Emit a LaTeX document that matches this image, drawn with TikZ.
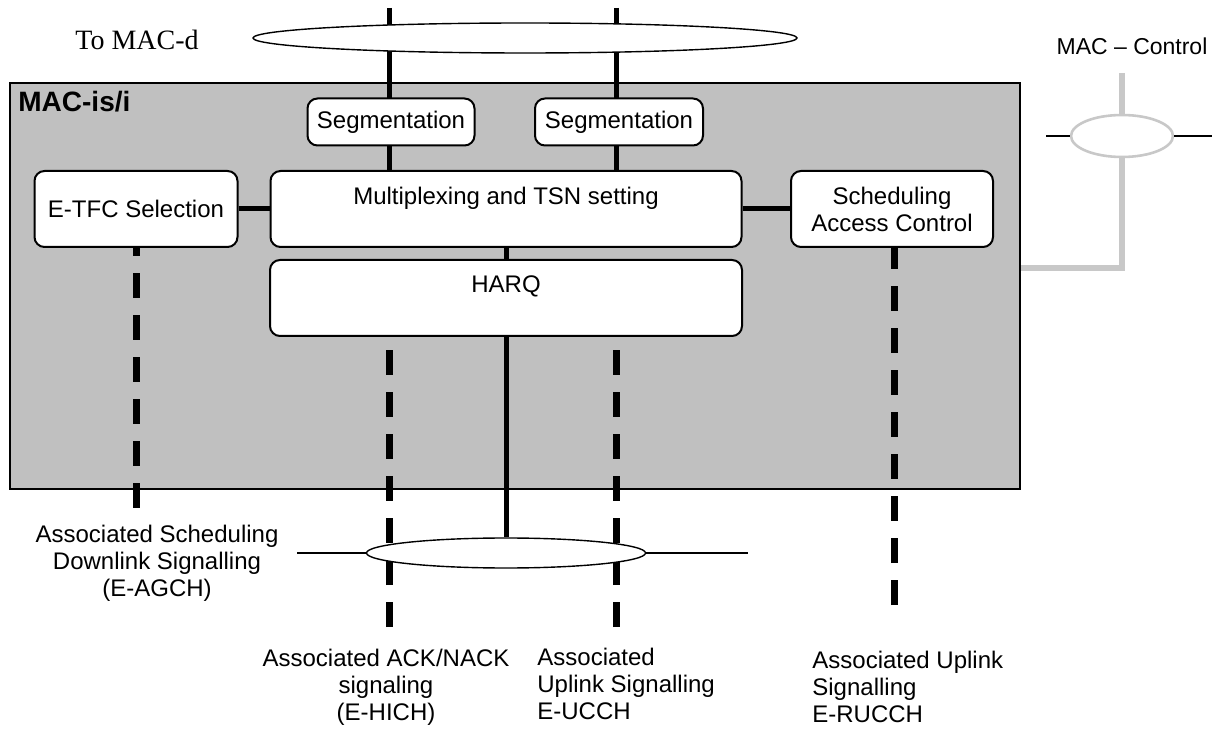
\documentclass[tikz,border=0pt]{standalone}
\usepackage{fontspec}
\setmainfont{Liberation Sans}
\newfontfamily\timesfont{Liberation Serif}
\usetikzlibrary{positioning,shapes.geometric}
\definecolor{macgray}{HTML}{C0C0C0}
\definecolor{ctlgray}{HTML}{C8C8C8}

\tikzset{
  block/.style={draw, fill=white, rounded corners=5pt, line width=1pt, align=center, inner sep=0pt, font=\fontsize{12}{13.5}\selectfont},
  chan/.style={ellipse, draw, fill=white, line width=0.7pt, inner sep=0pt},
  link/.style={line width=2.5pt},
  sig/.style={line width=3.5pt, dash pattern=on 12.5pt off 8.5pt},
  tag/.style={inner sep=0pt, align=center, font=\fontsize{12}{13.5}\selectfont}
}

\begin{document}
\begin{tikzpicture}[x=0.5pt, y=-0.5pt, node distance=40pt, on grid]
    \useasboundingbox (0,0) rectangle (1220,731);

      % MAC-is/i entity
      \node[draw, fill=macgray, line width=0.75pt, minimum width=505pt, minimum height=203pt, inner sep=0pt] (macbox) at (515,286) {};
      \node[anchor=base west, inner sep=0pt, font=\bfseries\fontsize{14}{16}\selectfont] (macname) at (18,112) {MAC-is/i};

      % Blocks
      \node[block, minimum width=235.5pt, minimum height=38pt] (mux) at (506,209) {Multiplexing and TSN setting\\ \mbox{}};
      \node[block, minimum width=236pt, minimum height=38pt] (harq) [below=44.5pt of mux] {HARQ\\ \mbox{}};
      \node[block, minimum width=101.5pt, minimum height=38pt] (etfc) [left=185pt of mux] {E-TFC Selection};
      \node[block, minimum width=101pt, minimum height=38pt] (sched) [right=193pt of mux] {Scheduling\\Access Control};

      % Logical channels from MAC-d
      \coordinate (top1) at (389,8);
      \coordinate (top2) at (616,8);
      \draw[link] (top1) -- (top1 |- mux.north);
      \draw[link] (top2) -- (top2 |- mux.north);

      \node[block, minimum width=83.5pt, minimum height=23.5pt] (seg1) [above left=43.5pt and 57.5pt of mux] {Segmentation};
      \node[block, minimum width=84pt, minimum height=23.5pt] (seg2) [above right=43.5pt and 56.5pt of mux] {Segmentation};

      \node[chan, minimum width=272pt, minimum height=15pt] (tomacd) at (525,38) {};
      \node[anchor=base west, inner sep=0pt, font=\timesfont\fontsize{14}{16}\selectfont] (tomacdlabel) at (75,50) {To MAC-d};

      % Internal links
      \path[link]
        (etfc) edge (mux)
        (mux) edge (sched)
        (harq.north) edge (harq.north |- mux.south);

      % Associated signalling
      \coordinate (sig1) at (136,508);
      \coordinate (sig2) at (389,627);
      \coordinate (sig3) at (616,627);
      \coordinate (sig4) at (894,605);
      \draw[sig] (sig1) -- (sig1 |- etfc.south);
      \draw[sig] (sig2) -- (sig2 |- harq.south);
      \draw[sig] (sig3) -- (sig3 |- harq.south);
      \draw[sig] (sig4) -- (sig4 |- sched.south);

      % Transport channel
      \node[chan, minimum width=139.5pt, minimum height=15pt] (phych) [below=127.5pt of harq] {};
      \draw[link] (harq) -- (phych);
      \coordinate (phyL) at (297,553);
      \coordinate (phyR) at (748,553);
      \draw[line width=0.8pt] (phyL) -- (phych) -- (phyR);

      % MAC control
      \node[chan, draw=ctlgray, line width=1.3pt, minimum width=51pt, minimum height=21pt] (macctl) at (1122,136) {};
      \coordinate (ctltop) at (1122,73);
      \coordinate (ctlbend) at (1122,268);
      \coordinate (ctlL) at (1046,136);
      \coordinate (ctlR) at (1212,136);
      \draw[ctlgray, line width=3pt] (ctltop) -- (macctl);
      \draw[ctlgray, line width=3pt] (macctl) -- (ctlbend) -- (macbox.east |- ctlbend);
      \draw[line width=1pt] (ctlL) -- (macctl) -- (ctlR);
      \node[tag, anchor=base, font=\fontsize{11.5}{13}\selectfont] (ctllabel) at (1132,55) {MAC -- Control};

      % Labels
      \node[tag] (agchlabel) at (157,563) {Associated Scheduling\\Downlink Signalling\\(E-AGCH)};
      \node[tag] (hichlabel) at (386,687) {Associated ACK/NACK\\signaling\\(E-HICH)};
      \node[tag, anchor=west, align=left] (ucchlabel) at (537,684) {Associated\\Uplink Signalling\\E-UCCH};
      \node[tag, anchor=west, align=left] (rucchlabel) at (812,687) {Associated Uplink\\Signalling\\E-RUCCH};

    \end{tikzpicture}
\end{document}
